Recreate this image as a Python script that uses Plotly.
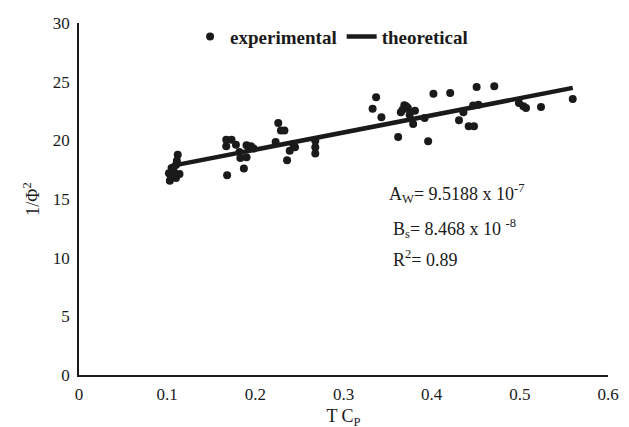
import plotly.graph_objects as go

# experimental points (T*Cp, 1/Phi^2)
exp_x = [0.103, 0.105, 0.110, 0.108, 0.114, 0.105, 0.111, 0.112, 0.102, 0.107, 0.110, 0.104,
         0.167, 0.173, 0.167, 0.168, 0.178, 0.182, 0.187, 0.183, 0.190, 0.190, 0.195, 0.198, 0.193,
         0.223, 0.226, 0.229, 0.233, 0.239, 0.245, 0.236, 0.243,
         0.268, 0.268, 0.268,
         0.337, 0.333, 0.343, 0.362, 0.369, 0.365, 0.373, 0.375, 0.381, 0.379, 0.392, 0.396,
         0.402, 0.421, 0.371, 0.367,
         0.436, 0.431, 0.442, 0.448, 0.451, 0.471, 0.447, 0.453,
         0.499, 0.504, 0.507, 0.524, 0.560]
exp_y = [16.56, 16.94, 16.79, 17.22, 17.13, 17.65, 18.27, 18.78, 17.20, 17.45, 17.90, 17.00,
         20.06, 20.06, 19.50, 17.02, 19.63, 19.00, 17.60, 18.50, 18.55, 19.58, 19.50, 19.30, 19.30,
         19.86, 21.48, 20.83, 20.83, 19.12, 19.41, 18.30, 19.69,
         19.97, 19.41, 18.87,
         23.67, 22.70, 21.97, 20.29, 22.99, 22.40, 22.76, 22.19, 22.53, 21.40, 21.91, 19.92,
         23.96, 24.04, 22.90, 22.60,
         22.40, 21.71, 21.20, 21.20, 24.55, 24.61, 22.96, 23.04,
         23.19, 22.90, 22.76, 22.85, 23.53]

# theoretical fit
theo_x = [0.105, 0.560]
theo_y = [17.82, 24.47]

x_ticks = [0, 0.1, 0.2, 0.3, 0.4, 0.5, 0.6]
y_ticks = [0, 5, 10, 15, 20, 25, 30]

FONT = "Liberation Serif, Times New Roman, serif"
INK = "#1a1a1a"

fig = go.Figure()
fig.add_trace(go.Scatter(
    x=exp_x, y=exp_y, mode="markers", name="experimental",
    marker=dict(color=INK, size=8),
))
fig.add_trace(go.Scatter(
    x=theo_x, y=theo_y, mode="lines", name="theoretical",
    line=dict(color=INK, width=4.5),
))

ann_font = dict(family=FONT, size=18, color=INK)
fig.add_annotation(x=0.349, y=15.5, xref="x", yref="y", xanchor="left", yanchor="middle",
                   text="A<sub>W</sub>= 9.5188 x 10<sup>-7</sup>", showarrow=False, font=ann_font)
fig.add_annotation(x=0.354, y=12.5, xref="x", yref="y", xanchor="left", yanchor="middle",
                   text="B<sub>s</sub>= 8.468 x 10 <sup>-8</sup>", showarrow=False, font=ann_font)
fig.add_annotation(x=0.354, y=9.9, xref="x", yref="y", xanchor="left", yanchor="middle",
                   text="R<sup>2</sup>= 0.89", showarrow=False, font=ann_font)

fig.update_layout(
    width=629, height=427,
    margin=dict(l=71, r=29, t=15, b=60, autoexpand=False),
    paper_bgcolor="white", plot_bgcolor="white",
    font=dict(family=FONT, size=17, color=INK),
    showlegend=True,
    legend=dict(orientation="h", x=0.21, y=0.961, xanchor="left", yanchor="middle",
                font=dict(family=FONT, size=19, color=INK, weight="bold"),
                bgcolor="rgba(0,0,0,0)"),
)
fig.update_xaxes(
    range=[0, 0.6], tickvals=x_ticks, ticktext=[("%g" % v) for v in x_ticks],
    showgrid=False, zeroline=False, showline=True, linecolor=INK, linewidth=1.5,
    ticks="", ticklabelstandoff=3, automargin=False,
    tickfont=dict(family=FONT, size=17, color=INK),
    title=dict(text="T C<sub>P</sub>", font=dict(family=FONT, size=18, color=INK), standoff=6),
)
fig.update_yaxes(
    range=[0, 30], tickvals=y_ticks, ticktext=[str(v) for v in y_ticks],
    showgrid=False, zeroline=False, showline=True, linecolor=INK, linewidth=1.5,
    ticks="", ticklabelstandoff=4, automargin=False,
    tickfont=dict(family=FONT, size=17, color=INK),
    title=dict(text="1/Φ<sup>2</sup>", font=dict(family=FONT, size=18, color=INK), standoff=9),
)

fig.write_html("out.html")
